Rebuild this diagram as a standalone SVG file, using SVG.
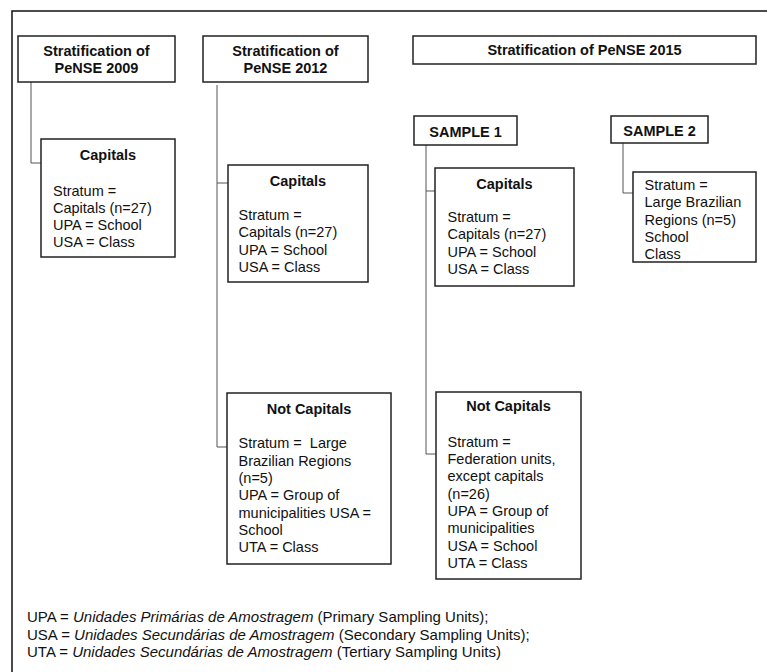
<svg xmlns="http://www.w3.org/2000/svg" width="767" height="672" viewBox="0 0 767 672">
<style>
.box{fill:#fff;stroke:#222;stroke-width:1.5}
.frame{fill:none;stroke:#111;stroke-width:1.5}
.conn{fill:none;stroke:#555;stroke-width:1}
text{font-family:"Liberation Sans",Arial,sans-serif;font-size:14.5px;fill:#111}
.b{font-weight:bold}
.c{text-anchor:middle}
.i{font-style:italic}
.f{font-size:15px}
</style>
<rect width="767" height="672" fill="#fff"/>
<path class="frame" d="M12,672 V11 H767"/>
<g id="connectors">
<path class="conn" d="M31,82 V163 H41"/>
<path class="conn" d="M217,85 V447 H227"/>
<path class="conn" d="M217,183 H228"/>
<path class="conn" d="M426,145 V454 H436"/>
<path class="conn" d="M426,191 H435"/>
<path class="conn" d="M623,143 V193 H633"/>
</g>
<g id="title2009">
<rect class="box" x="18" y="36" width="157" height="46"/>
<text class="b c" x="96.5" y="56">Stratification of</text>
<text class="b c" x="96.5" y="73">PeNSE 2009</text>
</g>
<g id="title2012">
<rect class="box" x="203" y="36" width="165" height="46"/>
<text class="b c" x="285.5" y="56">Stratification of</text>
<text class="b c" x="285.5" y="73">PeNSE 2012</text>
</g>
<g id="title2015">
<rect class="box" x="413" y="36" width="343" height="28"/>
<text class="b c" x="584.5" y="55">Stratification of PeNSE 2015</text>
</g>
<g id="capitals2009">
<rect class="box" x="41" y="139" width="134" height="118"/>
<text class="b c" x="108" y="160">Capitals</text>
<text x="53" y="196">Stratum =</text>
<text x="53" y="213">Capitals (n=27)</text>
<text x="53" y="230">UPA = School</text>
<text x="53" y="247">USA = Class</text>
</g>
<g id="capitals2012">
<rect class="box" x="228" y="165" width="140" height="117"/>
<text class="b c" x="298" y="185.5">Capitals</text>
<text x="238.5" y="220">Stratum =</text>
<text x="238.5" y="237.3">Capitals (n=27)</text>
<text x="238.5" y="254.6">UPA = School</text>
<text x="238.5" y="271.9">USA = Class</text>
</g>
<g id="notcapitals2012">
<rect class="box" x="227" y="393" width="164" height="171"/>
<text class="b c" x="309" y="413.5">Not Capitals</text>
<text x="238.5" y="448.3" xml:space="preserve">Stratum =  Large</text>
<text x="238.5" y="465.6">Brazilian Regions</text>
<text x="238.5" y="482.9">(n=5)</text>
<text x="238.5" y="500.2">UPA = Group of</text>
<text x="238.5" y="517.5">municipalities USA =</text>
<text x="238.5" y="534.8">School</text>
<text x="238.5" y="552.1">UTA = Class</text>
</g>
<g id="sample1">
<rect class="box" x="414" y="116" width="103" height="29"/>
<text class="b c" x="465.5" y="136.5">SAMPLE 1</text>
</g>
<g id="sample2">
<rect class="box" x="611" y="116" width="97" height="27"/>
<text class="b c" x="659.5" y="135.5">SAMPLE 2</text>
</g>
<g id="capitals2015">
<rect class="box" x="435" y="168" width="139" height="118"/>
<text class="b c" x="504.5" y="188.5">Capitals</text>
<text x="447.5" y="222">Stratum =</text>
<text x="447.5" y="239.3">Capitals (n=27)</text>
<text x="447.5" y="256.6">UPA = School</text>
<text x="447.5" y="273.9">USA = Class</text>
</g>
<g id="sample2detail">
<rect class="box" x="633" y="172" width="123" height="90"/>
<text x="644.5" y="190">Stratum =</text>
<text x="644.5" y="207.3">Large Brazilian</text>
<text x="644.5" y="224.6">Regions (n=5)</text>
<text x="644.5" y="241.9">School</text>
<text x="644.5" y="259.2">Class</text>
</g>
<g id="notcapitals2015">
<rect class="box" x="436" y="392" width="145" height="187"/>
<text class="b c" x="508.5" y="411">Not Capitals</text>
<text x="447.5" y="446.7">Stratum =</text>
<text x="447.5" y="464">Federation units,</text>
<text x="447.5" y="481.3">except capitals</text>
<text x="447.5" y="498.6">(n=26)</text>
<text x="447.5" y="515.9">UPA = Group of</text>
<text x="447.5" y="533.2">municipalities</text>
<text x="447.5" y="550.5">USA = School</text>
<text x="447.5" y="567.8">UTA = Class</text>
</g>
<g id="footnote">
<text class="f" x="27" y="622">UPA = <tspan class="i">Unidades Primárias de Amostragem</tspan> (Primary Sampling Units);</text>
<text class="f" x="27" y="639.5">USA = <tspan class="i">Unidades Secundárias de Amostragem</tspan> (Secondary Sampling Units);</text>
<text class="f" x="27" y="657">UTA = <tspan class="i">Unidades Secundárias de Amostragem</tspan> (Tertiary Sampling Units)</text>
</g>
</svg>
